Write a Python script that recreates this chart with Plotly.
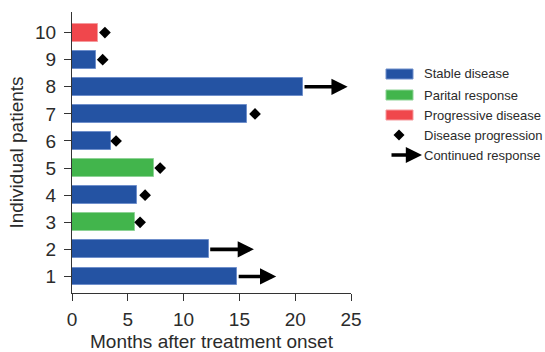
import plotly.graph_objects as go

patients = [1, 2, 3, 4, 5, 6, 7, 8, 9, 10]
months = [14.8, 12.25, 5.65, 5.8, 7.35, 3.45, 15.65, 20.7, 2.15, 2.35]
response = ["Stable disease", "Stable disease", "Parital response", "Stable disease",
            "Parital response", "Stable disease", "Stable disease", "Stable disease",
            "Stable disease", "Progressive disease"]
progression_patients = [3, 4, 5, 6, 7, 9, 10]
progression_months = [6.1, 6.55, 7.9, 3.95, 16.4, 2.75, 2.95]
continued_patients = [1, 2, 8]
continued_tip = [18.3, 16.3, 24.7]

colors = {"Stable disease": "#2453A3", "Parital response": "#42B54C",
          "Progressive disease": "#F0474C"}
edge = {"Stable disease": "#6F8FCB", "Parital response": "#8ED396",
        "Progressive disease": "#F59A9D"}

W, H = 545, 352
L, R, T, B = 72, 194, 12, 59
font = "Liberation Sans, Arial, Helvetica, sans-serif"
txt = "#2b2b2b"

fig = go.Figure()
fig.add_trace(go.Bar(
    x=months, y=patients, orientation="h", width=0.66,
    marker=dict(color=[colors[r] for r in response],
                line=dict(color=[edge[r] for r in response], width=1)),
    showlegend=False, hoverinfo="x+y"))
fig.add_trace(go.Scatter(
    x=progression_months, y=progression_patients, mode="markers",
    marker=dict(symbol="diamond", size=9, color="black"), showlegend=False))

end_by_patient = dict(zip(patients, months))
for p, tip in zip(continued_patients, continued_tip):
    fig.add_annotation(x=tip, y=p, ax=end_by_patient[p], ay=p, xref="x", yref="y",
                       axref="x", ayref="y", showarrow=True, arrowhead=2,
                       arrowsize=0.9, arrowwidth=3.6, arrowcolor="black", text="",
                       standoff=0, startstandoff=0)

# legend drawn manually
pw, ph = W - L - R, H - T - B
def px(x):
    return (x - L) / pw
def py(y):
    return (H - B - y) / ph

rows = [74, 95, 115, 135, 155]
labels = ["Stable disease", "Parital response", "Progressive disease",
          "Disease progression", "Continued response"]
for i, name in enumerate(labels[:3]):
    y = rows[i]
    fig.add_shape(type="rect", xref="paper", yref="paper",
                  x0=px(386), x1=px(413), y0=py(y + 5), y1=py(y - 5),
                  fillcolor=colors[name], line=dict(color=edge[name], width=1))
cx, cy, r = 399, rows[3], 5.5
fig.add_shape(type="path", xref="paper", yref="paper",
              path=f"M {px(cx-r)},{py(cy)} L {px(cx)},{py(cy-r)} L {px(cx+r)},{py(cy)} L {px(cx)},{py(cy+r)} Z",
              fillcolor="black", line=dict(color="black", width=0))
fig.add_annotation(x=px(422), y=py(rows[4]), ax=-32, ay=0,
                   xref="paper", yref="paper", axref="pixel", ayref="pixel",
                   showarrow=True, arrowhead=2, arrowsize=0.9, arrowwidth=3.6,
                   arrowcolor="black", text="", standoff=0)
for i, name in enumerate(labels):
    fig.add_annotation(x=px(422), y=py(rows[i]), xref="paper", yref="paper",
                       text=name, showarrow=False, xanchor="left", yanchor="middle",
                       font=dict(family=font, size=13, color=txt))

fig.update_layout(
    width=W, height=H, margin=dict(l=L, r=R, t=T, b=B, pad=0, autoexpand=False),
    plot_bgcolor="white", paper_bgcolor="white", bargap=0,
    font=dict(family=font, color=txt),
    xaxis=dict(range=[0, 25], tickvals=[0, 5, 10, 15, 20, 25], showline=True,
               linecolor="#333", linewidth=1.3, ticks="outside", ticklen=7,
               tickcolor="#333", tickwidth=1.3, showgrid=False, zeroline=False,
               tickfont=dict(size=19, color=txt), automargin=False,
               ticklabelstandoff=2,
               title=dict(text="Months after treatment onset",
                          font=dict(size=19, color=txt), standoff=7)),
    yaxis=dict(range=[0.39, 10.76], tickvals=patients, showline=True,
               linecolor="#333", linewidth=1.3, ticks="outside", ticklen=7,
               tickcolor="#333", tickwidth=1.3, showgrid=False, zeroline=False,
               tickfont=dict(size=19, color=txt), ticklabelstandoff=4,
               automargin=False,
               title=dict(text="Individual patients",
                          font=dict(size=19, color=txt), standoff=6)),
)
fig.write_html("out.html", config={"displayModeBar": False},
               post_script="document.body.style.margin='0';document.body.style.overflow='hidden';")
